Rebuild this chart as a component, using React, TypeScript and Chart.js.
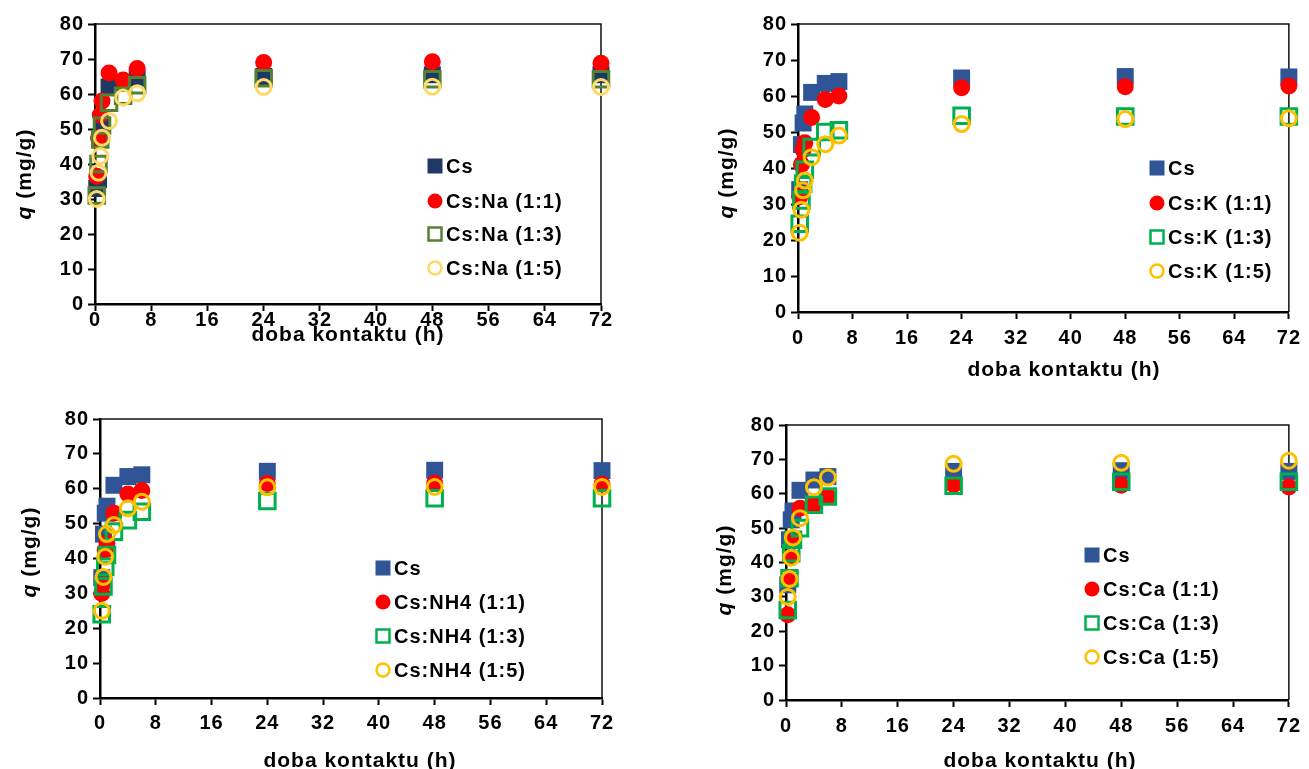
import React, { useEffect, useRef } from "react";
import { Chart, registerables } from "chart.js";

Chart.register(...registerables);

// ---------- data ----------
const TIMES_H = [0.25, 0.5, 0.75, 1, 2, 4, 6, 24, 48, 72];
const X_TICKS = [0, 8, 16, 24, 32, 40, 48, 56, 64, 72];
const Y_TICKS = [0, 10, 20, 30, 40, 50, 60, 70, 80];
const X_TITLE = "doba kontaktu (h)";
const Y_TITLE_Q = "q";
const Y_TITLE_REST = " (mg/g)";

// Panel 1 – Na
const NA_LABELS = ["Cs", "Cs:Na (1:1)", "Cs:Na (1:3)", "Cs:Na (1:5)"];
const NA_CS = [33, 35.5, 47, 51, 62, 63, 64.5, 65, 65.5, 65.5];
const NA_11 = [36.5, 47.5, 54, 58, 66, 64, 67.3, 69, 69.2, 68.8];
const NA_13 = [31, 40, 47, 51, 57.5, 59.5, 62.5, 64.5, 64.2, 64.2];
const NA_15 = [30, 37.5, 42.3, 47.5, 52.3, 59, 60.2, 62, 62.1, 62];

// Panel 2 – K
const K_LABELS = ["Cs", "Cs:K (1:1)", "Cs:K (1:3)", "Cs:K (1:5)"];
const K_CS = [34, 46.5, 52.5, 55, 61, 63.5, 64, 65, 65.4, 65.3];
const K_11 = [32, 41, 45, 47, 54, 59, 60, 62.3, 62.6, 62.8];
const K_13 = [24.5, 31, 35.6, 39.5, 45.8, 50, 50.5, 54.5, 54.3, 54.3];
const K_15 = [22, 28.4, 33.8, 36.5, 43, 46.6, 49, 52.2, 53.6, 53.8];

// Panel 3 – NH4
const NH4_LABELS = ["Cs", "Cs:NH4 (1:1)", "Cs:NH4 (1:3)", "Cs:NH4 (1:5)"];
const NH4_CS = [34.5, 47, 53, 55, 61, 63.5, 64, 65, 65.3, 65.2];
const NH4_11 = [30, 33, 42.4, 44.5, 53, 58.5, 59.5, 61.5, 61.6, 61.3];
const NH4_13 = [24, 32, 37.6, 41, 47.7, 51, 53.4, 56.5, 57.3, 57.3];
const NH4_15 = [25, 34.7, 40.5, 47, 49.6, 54.4, 56.3, 60.4, 60.5, 60.5];

// Panel 4 – Ca
const CA_LABELS = ["Cs", "Cs:Ca (1:1)", "Cs:Ca (1:3)", "Cs:Ca (1:5)"];
const CA_CS = [33.5, 46.6, 52.4, 55, 61, 64, 65, 66.5, 66.7, 66.5];
const CA_11 = [24.8, 35, 41.7, 47, 55.8, 56.8, 59.2, 62.6, 62.5, 62];
const CA_13 = [26.2, 35.4, 42.7, 46.6, 50, 56.8, 59.2, 62.3, 63.5, 63.5];
const CA_15 = [30, 35.2, 41.4, 47.3, 52.9, 61.9, 64.7, 68.7, 69, 69.6];

// ---------- styles / layout ----------
const FAMILY = "'Liberation Sans', Arial, sans-serif";
const COLORS_NA = ["#1F3864", "#FF0000", "#548235", "#FFD966"];
const COLORS_STD = ["#2F5597", "#FF0000", "#00B050", "#FFC000"];
const SHAPES = [
  { shape: "rect", filled: true },
  { shape: "circle", filled: true },
  { shape: "rect", filled: false },
  { shape: "circle", filled: false },
];

type Panel = {
  labels: string[];
  values: number[][];
  colors: string[];
  canvas: { left: number; top: number; w: number; h: number };
  area: { l: number; t: number; r: number; b: number };
  xTickPad: number;
  yTitle: { x: number; y: number };
  xTitle: { x: number; y: number };
  legend: { mx: number; tx: number; ys: number[] };
};

const PANELS: Panel[] = [
  {
    labels: NA_LABELS,
    values: [NA_CS, NA_11, NA_13, NA_15],
    colors: COLORS_NA,
    canvas: { left: 0, top: 0, w: 654, h: 350 },
    area: { l: 95, t: 24, r: 601, b: 304 },
    xTickPad: -1,
    yTitle: { x: 25, y: 174 },
    xTitle: { x: 348, y: 341 },
    legend: { mx: 435, tx: 446, ys: [166, 201, 234, 268] },
  },
  {
    labels: K_LABELS,
    values: [K_CS, K_11, K_13, K_15],
    colors: COLORS_STD,
    canvas: { left: 654, top: 0, w: 655, h: 385 },
    area: { l: 798, t: 24, r: 1296, b: 312 },
    xTickPad: 9,
    yTitle: { x: 727, y: 173 },
    xTitle: { x: 1064, y: 376 },
    legend: { mx: 1157, tx: 1168, ys: [168, 203, 237, 271] },
  },
  {
    labels: NH4_LABELS,
    values: [NH4_CS, NH4_11, NH4_13, NH4_15],
    colors: COLORS_STD,
    canvas: { left: 0, top: 385, w: 654, h: 384 },
    area: { l: 100, t: 419, r: 602, b: 698 },
    xTickPad: 8,
    yTitle: { x: 30, y: 552 },
    xTitle: { x: 360, y: 767 },
    legend: { mx: 383, tx: 394, ys: [568, 602, 636, 670] },
  },
  {
    labels: CA_LABELS,
    values: [CA_CS, CA_11, CA_13, CA_15],
    colors: COLORS_STD,
    canvas: { left: 654, top: 385, w: 655, h: 384 },
    area: { l: 786, t: 425, r: 1289, b: 700 },
    xTickPad: 9,
    yTitle: { x: 725, y: 570 },
    xTitle: { x: 1040, y: 767 },
    legend: { mx: 1092, tx: 1103, ys: [555, 589, 623, 657] },
  },
];

function setSpacing(ctx: any, v: string) {
  if ("letterSpacing" in ctx) ctx.letterSpacing = v;
}

function decoPlugin(p: Panel) {
  const ox = p.canvas.left;
  const oy = p.canvas.top;
  return {
    id: "deco",
    beforeDraw(chart: any) {
      setSpacing(chart.ctx, "1px");
    },
    beforeDatasetsDraw(chart: any) {
      const { ctx, chartArea: a } = chart;
      ctx.save();
      ctx.strokeStyle = "#111";
      ctx.lineWidth = 1.5;
      ctx.beginPath();
      ctx.moveTo(a.left, a.top);
      ctx.lineTo(a.right, a.top);
      ctx.lineTo(a.right, a.bottom);
      ctx.stroke();
      ctx.restore();
    },
    afterDraw(chart: any) {
      const ctx = chart.ctx as CanvasRenderingContext2D;
      ctx.save();
      setSpacing(ctx, "1px");
      ctx.fillStyle = "#000";
      // x title
      ctx.font = `bold 21px ${FAMILY}`;
      ctx.textAlign = "center";
      ctx.textBaseline = "alphabetic";
      ctx.fillText(X_TITLE, p.xTitle.x - ox, p.xTitle.y - oy);
      // y title (rotated, italic q)
      ctx.save();
      ctx.translate(p.yTitle.x - ox, p.yTitle.y - oy);
      ctx.rotate(-Math.PI / 2);
      ctx.textBaseline = "middle";
      ctx.textAlign = "left";
      ctx.font = `italic bold 21px ${FAMILY}`;
      const wq = ctx.measureText(Y_TITLE_Q).width;
      ctx.font = `bold 21px ${FAMILY}`;
      const wr = ctx.measureText(Y_TITLE_REST).width;
      const start = -(wq + wr) / 2;
      ctx.font = `italic bold 21px ${FAMILY}`;
      ctx.fillText(Y_TITLE_Q, start, 0);
      ctx.font = `bold 21px ${FAMILY}`;
      ctx.fillText(Y_TITLE_REST, start + wq, 0);
      ctx.restore();
      // legend
      const ds = chart.data.datasets;
      ds.forEach((d: any, i: number) => {
        const st = SHAPES[i];
        const col = p.colors[i];
        const mx = p.legend.mx - ox;
        const my = p.legend.ys[i] - oy;
        ctx.save();
        if (st.shape === "rect") {
          if (st.filled) {
            ctx.fillStyle = col;
            ctx.fillRect(mx - 7.5, my - 7.5, 15, 15);
          } else {
            ctx.strokeStyle = col;
            ctx.lineWidth = 2.5;
            ctx.strokeRect(mx - 6.5, my - 6.5, 13, 13);
          }
        } else {
          ctx.beginPath();
          if (st.filled) {
            ctx.arc(mx, my, 7.5, 0, Math.PI * 2);
            ctx.fillStyle = col;
            ctx.fill();
          } else {
            ctx.arc(mx, my, 6.5, 0, Math.PI * 2);
            ctx.strokeStyle = col;
            ctx.lineWidth = 2.5;
            ctx.stroke();
          }
        }
        ctx.restore();
        ctx.font = `bold 20px ${FAMILY}`;
        ctx.fillStyle = "#000";
        ctx.textAlign = "left";
        ctx.textBaseline = "middle";
        ctx.fillText(d.label, p.legend.tx - ox, my + 1);
      });
      ctx.restore();
    },
  };
}

function PanelChart({ panel }: { panel: Panel }) {
  const ref = useRef<HTMLCanvasElement>(null);
  useEffect(() => {
    const p = panel;
    const c = p.canvas;
    const a = p.area;
    const datasets = p.labels.map((label, i) => {
      const st = SHAPES[i];
      const color = p.colors[i];
      const r = st.shape === "rect" ? (st.filled ? 12 : 11) : st.filled ? 8.5 : 7.5;
      return {
        label,
        data: TIMES_H.map((t, j) => ({ x: t, y: p.values[i][j] })),
        pointStyle: st.shape,
        pointRadius: r,
        pointHoverRadius: r,
        pointBorderWidth: st.filled ? 0 : 3,
        pointBackgroundColor: st.filled ? color : "rgba(0,0,0,0)",
        pointBorderColor: color,
        showLine: false,
        clip: false as any,
        order: 4 - i,
      };
    });
    const tickFont = { family: FAMILY, size: 20, weight: "bold" as const, lineHeight: 1 };
    const chart = new Chart(ref.current as HTMLCanvasElement, {
      type: "scatter",
      data: { datasets: datasets as any },
      options: {
        animation: false,
        responsive: false,
        maintainAspectRatio: false,
        devicePixelRatio: 1,
        events: [],
        layout: {
          padding: { left: 0, top: a.t - c.top, right: c.left + c.w - a.r, bottom: 0 },
        },
        plugins: { legend: { display: false }, tooltip: { enabled: false } },
        scales: {
          x: {
            type: "linear",
            min: 0,
            max: 72,
            afterBuildTicks: (s: any) => {
              s.ticks = X_TICKS.map((v) => ({ value: v }));
            },
            afterFit: (s: any) => {
              s.height = c.top + c.h - a.b;
            },
            ticks: { font: tickFont, color: "#000", padding: p.xTickPad, maxRotation: 0, autoSkip: false },
            grid: { drawOnChartArea: false, drawTicks: true, tickLength: 7, tickWidth: 2, tickColor: "#000" },
            border: { display: true, color: "#000", width: 2.5 },
          },
          y: {
            type: "linear",
            min: 0,
            max: 80,
            afterBuildTicks: (s: any) => {
              s.ticks = Y_TICKS.map((v) => ({ value: v }));
            },
            afterFit: (s: any) => {
              s.width = a.l - c.left;
            },
            ticks: { font: tickFont, color: "#000", padding: 4, autoSkip: false },
            grid: { drawOnChartArea: false, drawTicks: true, tickLength: 7, tickWidth: 2, tickColor: "#000" },
            border: { display: true, color: "#000", width: 2.5 },
          },
        },
      },
      plugins: [decoPlugin(p)],
    });
    return () => chart.destroy();
  }, [panel]);
  return (
    <canvas
      ref={ref}
      width={panel.canvas.w}
      height={panel.canvas.h}
      style={{ position: "absolute", left: panel.canvas.left, top: panel.canvas.top, width: panel.canvas.w, height: panel.canvas.h }}
    />
  );
}

export default function App() {
  return (
    <div style={{ position: "absolute", left: 0, top: 0, width: 1309, height: 769, background: "#fff", overflow: "hidden" }}>
      {PANELS.map((p, i) => (
        <PanelChart key={i} panel={p} />
      ))}
    </div>
  );
}
